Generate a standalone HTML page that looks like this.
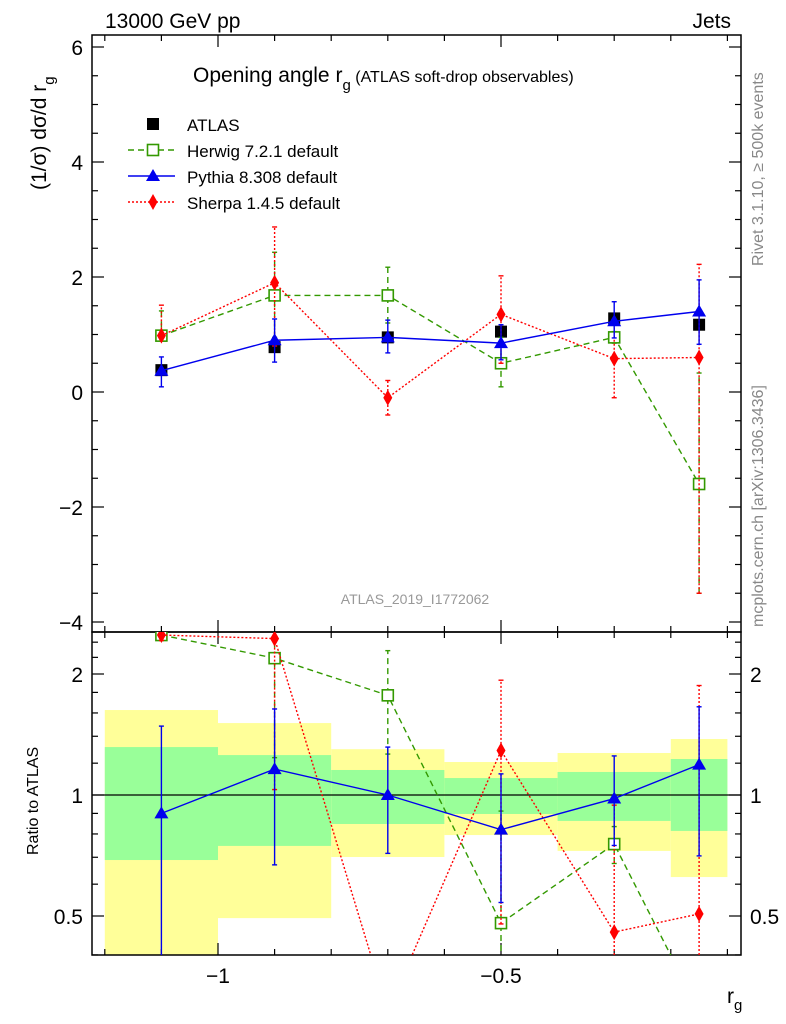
<!DOCTYPE html>
<html><head><meta charset="utf-8"><style>
html,body{margin:0;padding:0;background:#fff;overflow:hidden;width:786px;height:1024px;}
svg{display:block;font-family:"Liberation Sans",sans-serif;}
</style></head><body>
<svg id="c" width="786" height="1024" viewBox="0 0 786 1024"></svg>
<script>
const binEdges=[-1.2,-1.0,-0.8,-0.6,-0.4,-0.2,-0.1];
const xCenters=[-1.1,-0.9,-0.7,-0.5,-0.3,-0.15];
const atlasVals=[0.38,0.78,0.95,1.05,1.28,1.17];
const herwigVals=[0.98,1.68,1.68,0.50,0.95,-1.6];
const herwigLo=[0.95,0.95,1.2,0.09,0.85,-3.5];
const herwigHi=[1.41,2.43,2.17,0.95,1.05,0.33];
const pythiaVals=[0.37,0.90,0.95,0.85,1.23,1.40];
const pythiaLo=[0.09,0.52,0.68,0.56,0.94,0.83];
const pythiaHi=[0.61,1.27,1.25,1.17,1.57,1.95];
const sherpaVals=[0.98,1.90,-0.10,1.35,0.58,0.60];
const sherpaLo=[0.95,0.8,-0.4,0.5,-0.1,-3.5];
const sherpaHi=[1.51,2.87,0.20,2.02,1.20,2.22];
const herwigRatio=[2.5,2.19,1.77,0.48,0.755,-1.4];
const pythiaRatio=[0.90,1.16,1.0,0.82,0.98,1.19];
const sherpaRatio=[2.5,2.45,-0.1,1.29,0.456,0.506];
const bandYellowLo=[0.40,0.494,0.701,0.795,0.726,0.625];
const bandYellowHi=[1.627,1.51,1.30,1.208,1.272,1.378];
const bandGreenLo=[0.689,0.747,0.847,0.897,0.862,0.814];
const bandGreenHi=[1.316,1.257,1.154,1.102,1.141,1.229];
const yTicksMain=[-4,-2,0,2,4,6];
const xTickLabels=[-1,-0.5];
const ratioTicks=[0.5,1,2];

const NS="http://www.w3.org/2000/svg";
const svg=document.getElementById('c');
const L=92,R=741,T1=35,B1=632,T2=632,B2=955;
const X=v=>218+(v+1)*566;
const Y=v=>Math.min(B1+60,Math.max(T1-60,392-v*57.5));
const YR=v=>Math.min(1011,Math.max(T2-60,795-Math.log2(Math.max(v,0.01))*121));
function el(tag,attrs,parent){const e=document.createElementNS(NS,tag);for(const k in attrs)e.setAttribute(k,attrs[k]);(parent||svg).appendChild(e);return e;}
function txt(s,x,y,attrs,parent){const t=el('text',Object.assign({x:x,y:y},attrs),parent);t.textContent=s;return t;}

const defs=el('defs',{});
const c1=el('clipPath',{id:'cm'},defs);el('rect',{x:L,y:T1,width:R-L,height:B1-T1},c1);
const c2=el('clipPath',{id:'cr'},defs);el('rect',{x:L,y:T2,width:R-L,height:B2-T2},c2);

const gBand=el('g',{'clip-path':'url(#cr)'});


for(let i=0;i<xCenters.length;i++){
  const x0=X(binEdges[i]),x1=X(binEdges[i+1]);
  const ry=el('rect',{x:x0,y:YR(bandYellowHi[i]),width:x1-x0,height:Math.min(B2,YR(bandYellowLo[i]))-YR(bandYellowHi[i]),fill:'#ffff99'},gBand);
  
  
  const rg=el('rect',{x:x0,y:YR(bandGreenHi[i]),width:x1-x0,height:YR(bandGreenLo[i])-YR(bandGreenHi[i]),fill:'#99ff99'},gBand);
  
  
}
el('line',{x1:L,x2:R,y1:YR(1),y2:YR(1),stroke:'#000','stroke-width':1.2});

el('rect',{x:L,y:T1,width:R-L,height:B1-T1,fill:'none',stroke:'#000','stroke-width':1.5});
el('rect',{x:L,y:T2,width:R-L,height:B2-T2,fill:'none',stroke:'#000','stroke-width':1.5});

const tk={stroke:'#000','stroke-width':1.2};
for(let v=-4;v<=6.01;v+=0.5){const y=Y(v),len=Math.abs(v%2)<1e-6?12:6;el('line',Object.assign({x1:L,x2:L+len,y1:y,y2:y},tk));el('line',Object.assign({x1:R,x2:R-len,y1:y,y2:y},tk));}
yTicksMain.forEach(v=>{const t=txt(v<0?'\u2212'+(-v):String(v),83,Y(v)+8,{'font-size':21,'text-anchor':'end'});});
for(let k=-12;k<=-1;k++){const v=k/10;const x=X(v);if(x<L||x>R)continue;const maj=Math.abs(v+1)<1e-6||Math.abs(v+0.5)<1e-6;const len=maj?12:6;
 [[B1,-1],[T1,1],[B2,-1],[T2,1]].forEach(([y,d])=>el('line',Object.assign({x1:x,x2:x,y1:y,y2:y+d*len},tk)));}
xTickLabels.forEach(v=>{const t=txt('\u2212'+(-v),X(v),983,{'font-size':21,'text-anchor':'middle'});});
const rMinor=[0.4,0.6,0.7,0.8,0.9,1.2,1.4,1.6,1.8,2.2,2.4];
rMinor.concat(ratioTicks).forEach(v=>{const y=YR(v);if(y<T2||y>B2)return;const len=ratioTicks.includes(v)?12:6;el('line',Object.assign({x1:L,x2:L+len,y1:y,y2:y},tk));el('line',Object.assign({x1:R,x2:R-len,y1:y,y2:y},tk));});
ratioTicks.forEach(v=>{const s=String(v);const a=txt(s,83,YR(v)+8,{'font-size':21,'text-anchor':'end'});const b=txt(s,750,YR(v)+8,{'font-size':21});});

function marker(type,x,y,color,g){
  if(type==='sq') el('rect',{x:x-6,y:y-6,width:12,height:12,fill:'#000'},g);
  if(type==='osq') el('rect',{x:x-5.5,y:y-5.5,width:11,height:11,fill:'#fff',stroke:color,'stroke-width':1.6},g);
  if(type==='tri') el('polygon',{points:`${x},${y-7} ${x-7},${y+5} ${x+7},${y+5}`,fill:color},g);
  if(type==='dia') el('polygon',{points:`${x},${y-8} ${x-4.5},${y} ${x},${y+8} ${x+4.5},${y}`,fill:color},g);
}
const series=[
 {name:'herwig',vals:herwigVals,lo:herwigLo,hi:herwigHi,ratio:herwigRatio,color:'#339900',dash:'6,4',m:'osq'},
 {name:'sherpa',vals:sherpaVals,lo:sherpaLo,hi:sherpaHi,ratio:sherpaRatio,color:'#ff0000',dash:'2,2',m:'dia'},
 {name:'pythia',vals:pythiaVals,lo:pythiaLo,hi:pythiaHi,ratio:pythiaRatio,color:'#0000ee',dash:'',m:'tri'},
];
const gA=el('g',{'clip-path':'url(#cm)'});


atlasVals.forEach((v,i)=>marker('sq',X(xCenters[i]),Y(v),'#000',gA));
series.forEach(s=>{
  ['main','ratio'].forEach(p=>{
    const g=el('g',{'clip-path':p==='main'?'url(#cm)':'url(#cr)'});
    
    
    const cen=p==='main'?s.vals:s.ratio;
    const f=p==='main'?Y:YR;
    const lo=s.lo.map((e,i)=>p==='main'?e:(s.vals[i]>0?s.ratio[i]*e/s.vals[i]:s.ratio[i]));
    const hi=s.hi.map((e,i)=>p==='main'?e:(s.vals[i]>0?s.ratio[i]*e/s.vals[i]:s.ratio[i]));
    const pts=cen.map((v,i)=>X(xCenters[i])+','+f(v)).join(' ');
    el('polyline',{points:pts,fill:'none',stroke:s.color,'stroke-width':1.4,'stroke-dasharray':s.dash},g);
    cen.forEach((v,i)=>{const x=X(xCenters[i]);
      el('line',{x1:x,x2:x,y1:f(lo[i]),y2:f(hi[i]),stroke:s.color,'stroke-width':1.4,'stroke-dasharray':s.dash},g);
      [lo[i],hi[i]].forEach(e=>el('line',{x1:x-2.5,x2:x+2.5,y1:f(e),y2:f(e),stroke:s.color,'stroke-width':1.4},g));
      marker(s.m,x,f(v),s.color,g);});
  });
});

let t;
t=txt('13000 GeV pp',105,28,{'font-size':21});
t=txt('Jets',731,28,{'font-size':21,'text-anchor':'end'});
t=el('text',{x:193,y:82,'font-size':21});t.innerHTML='Opening angle r<tspan dy="8" font-size="15">g</tspan><tspan dy="-8" font-size="16"> (ATLAS soft-drop observables)</tspan>';
t=el('text',{transform:'translate(46,190) rotate(-90)','font-size':21});t.innerHTML='(1/σ) dσ/d r<tspan dy="8" font-size="15">g</tspan>';
t=txt('Ratio to ATLAS',0,0,{transform:'translate(38,855) rotate(-90)','font-size':16});
t=el('text',{x:727,y:1003,'font-size':21});t.innerHTML='r<tspan dy="7" font-size="15">g</tspan>';
t=txt('Rivet 3.1.10, \u2265 500k events',0,0,{transform:'translate(763,266) rotate(-90)','font-size':16,fill:'#888'});
t=txt('mcplots.cern.ch [arXiv:1306.3436]',0,0,{transform:'translate(763,627) rotate(-90)','font-size':16,fill:'#888'});
t=txt('ATLAS_2019_I1772062',415,604,{'font-size':14,fill:'#999','text-anchor':'middle'});

const leg=[['ATLAS','sq','#000',''],['Herwig 7.2.1 default','osq','#339900','6,4'],['Pythia 8.308 default','tri','#0000ee',''],['Sherpa 1.4.5 default','dia','#ff0000','2,2']];
leg.forEach((e,i)=>{const y=124+i*26;const g=el('g',{});
  
  
  if(i>0) el('line',{x1:128,x2:175,y1:y,y2:y,stroke:e[2],'stroke-width':1.4,'stroke-dasharray':e[3]},g);
  marker(e[1],153,y,e[2],g);
  txt(e[0],187,y+7,{'font-size':17},g);});
</script>
</body></html>
